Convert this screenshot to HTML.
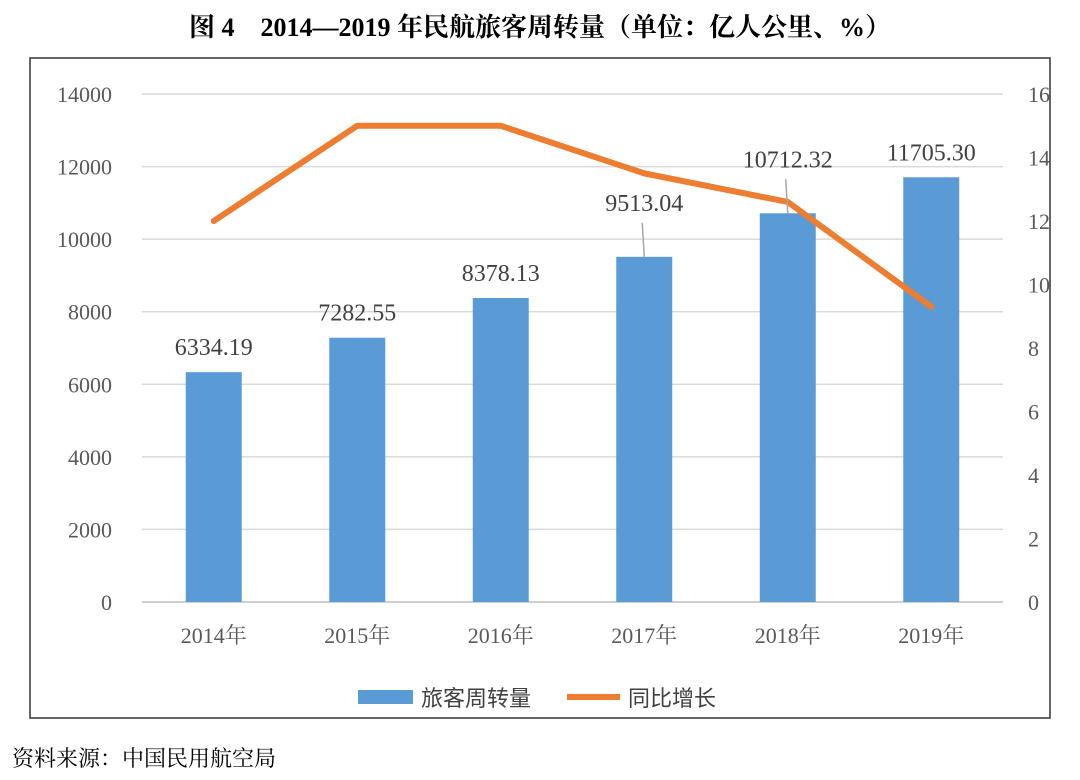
<!DOCTYPE html>
<html><head><meta charset="utf-8"><style>
body{margin:0;background:#fff;width:1080px;height:780px;overflow:hidden}
svg{display:block}
</style></head><body>
<svg id="c" width="1080" height="780" xmlns="http://www.w3.org/2000/svg">
<text x="540" y="36" text-anchor="middle" font-family="Liberation Serif, Noto Serif CJK SC, serif" font-weight="bold" font-size="26" fill="#000">图 4　2014—2019 年民航旅客周转量（单位：亿人公里、%）</text>
<rect x="30" y="58" width="1020" height="660" fill="none" stroke="#333" stroke-width="1.5"/>
<g id="grid"></g><g id="bars"></g><g id="line"></g><g id="labels"></g>
<g>
<rect x="358" y="690" width="55" height="14" fill="#5b9bd5"/>
<text x="421" y="706" font-family="Liberation Sans, Noto Sans CJK SC, sans-serif" font-size="22" fill="#404040">旅客周转量</text>
<line x1="567" y1="697" x2="620" y2="697" stroke="#ed7d31" stroke-width="6"/>
<text x="628" y="706" font-family="Liberation Sans, Noto Sans CJK SC, sans-serif" font-size="22" fill="#404040">同比增长</text>
</g>
<text x="12" y="766" font-family="Liberation Serif, Noto Serif CJK SC, serif" font-size="22" fill="#000">资料来源：中国民用航空局</text>
</svg>
<script>
const categories=["2014年","2015年","2016年","2017年","2018年","2019年"];
const volume=[6334.19,7282.55,8378.13,9513.04,10712.32,11705.30];
const growth=[12.0,15.0,15.0,13.5,12.6,9.3];
const leftTicks=[0,2000,4000,6000,8000,10000,12000,14000];
const rightTicks=[0,2,4,6,8,10,12,14,16];
const NS="http://www.w3.org/2000/svg";
const X0=142,X1=1003,Y0=602,Y1=94;
const bw=(X1-X0)/categories.length;
const xc=i=>X0+bw*(i+0.5);
const yL=v=>Y0-(v/14000)*(Y0-Y1);
const yR=v=>Y0-(v/16)*(Y0-Y1);
function mk(tag,attrs,parent,text){const e=document.createElementNS(NS,tag);for(const k in attrs)e.setAttribute(k,attrs[k]);if(text!==undefined)e.textContent=text;parent.appendChild(e);return e;}
const serif="Liberation Serif, Noto Serif CJK SC, serif";
const g=document.getElementById('grid');
leftTicks.forEach(t=>{
 const l=mk('line',{x1:X0,x2:X1,y1:yL(t),y2:yL(t),stroke:t===0?'#bfbfbf':'#d9d9d9','stroke-width':1.5},g);
 
 
 const tx=mk('text',{x:112,y:yL(t)+8,'text-anchor':'end','font-family':serif,'font-size':22,fill:'#595959'},g,String(t));
 
 
});
rightTicks.forEach(t=>{
 const tx=mk('text',{x:1028,y:yR(t)+8,'text-anchor':'start','font-family':serif,'font-size':22,fill:'#595959'},g,String(t));
 
 
});
const b=document.getElementById('bars'),lb=document.getElementById('labels');
categories.forEach((c,i)=>{
 const r=mk('rect',{x:xc(i)-28,y:yL(volume[i]),width:56,height:Y0-yL(volume[i]),fill:'#5b9bd5'},b);
 
 
 const cl=mk('text',{x:xc(i),y:643,'text-anchor':'middle','font-family':serif,'font-size':22,fill:'#595959'},lb,c);
 
 
});
const raise=[0,0,0,1,1,0];
volume.forEach((v,i)=>{
 let y=yL(v)-17;
 if(raise[i]){
  const ly=yL(v)-46;
  const ld=mk('line',{x1:xc(i)-2,y1:ly+12,x2:xc(i),y2:yL(v),stroke:'#a6a6a6','stroke-width':1.5},lb);
  
  
  y=ly;
 }
 const t=mk('text',{x:xc(i),y:y,'text-anchor':'middle','font-family':serif,'font-size':24,fill:'#404040'},lb,v.toFixed(2));
 
 
});
const ln=document.getElementById('line');
const p=mk('polyline',{points:growth.map((v,i)=>xc(i)+','+yR(v)).join(' '),fill:'none',stroke:'#ed7d31','stroke-width':6,'stroke-linejoin':'round','stroke-linecap':'round'},ln);


</script>
</body></html>
